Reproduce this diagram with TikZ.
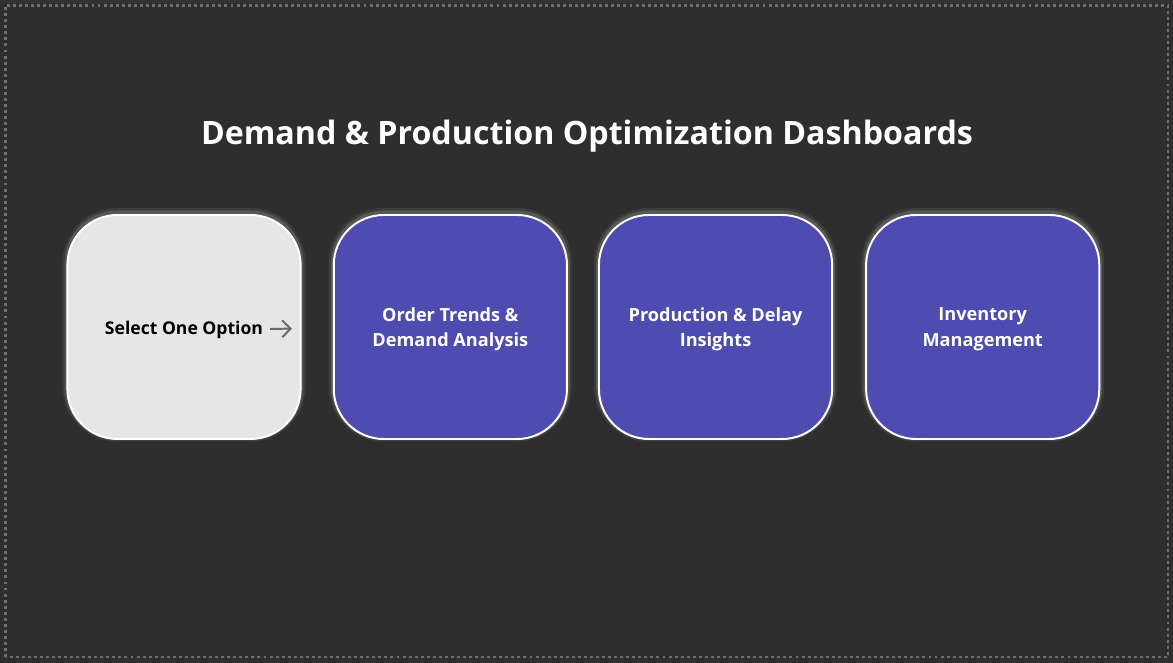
\documentclass[tikz,border=0pt]{standalone}
\usepackage{fontspec}
\setmainfont{Open Sans}
\usetikzlibrary{calc, positioning, arrows.meta}
\definecolor{dashbg}{HTML}{2E2E2E}
\definecolor{dashedge}{HTML}{6E6E6E}
\definecolor{optpurple}{HTML}{4F4CB1}
\definecolor{optgray}{HTML}{E6E6E6}
\definecolor{arrowgray}{HTML}{6A6A6A}

\tikzset{
    tile/.style={draw=white, line width=1.4pt, rounded corners=1.25cm,
        minimum width=5.83cm, minimum height=5.6cm, align=center,
        font=\bfseries\fontsize{12.9}{18.3}\selectfont,
        preaction={draw=white, draw opacity=0.07, line width=7pt, transform canvas={yshift=1.6pt}},
        preaction={draw=white, draw opacity=0.14, line width=4pt, transform canvas={yshift=1.2pt}}},
    optiontile/.style={tile, fill=optpurple, text=white, text depth=-3pt}
}

\begin{document}
\begin{tikzpicture}
    % Canvas
    \useasboundingbox (0,0) rectangle (29.325,16.575);
    \fill[dashbg] (0,0) rectangle (29.325,16.575);
    \fill[black!80] (0,16.5) rectangle (29.325,16.575);
    \draw[dashedge, line width=2pt, dash pattern=on 2.1pt off 2.2pt] (0.14,0.15) rectangle (29.2,16.44);

    % Title
    \node[text=white, font=\bfseries\fontsize{22.9}{27}\selectfont] (title) at (14.675,13.17)
        {Demand \& Production Optimization Dashboards};

    % Tiles
    \node[tile, fill=optgray, text=black] (select) at (4.6,8.4) {};
    \node[optiontile, right=0.78cm of select] (orders) {Order Trends \&\\Demand Analysis};
    \node[optiontile, right=0.75cm of orders] (production) {Production \& Delay\\Insights};
    \node[optiontile, right=0.8cm of production] (inventory) {Inventory\\Management};

    % Prompt and arrow
    \node[font=\bfseries\fontsize{12.5}{15}\selectfont, inner sep=0pt] (prompt) at (4.6,8.33) {Select One Option};
    \coordinate (pointer) at (7.3,8.36);
    \draw[arrowgray, line width=1.4pt, -{Straight Barb[length=6pt, width=12pt]}]
        ($(prompt.east)+(0.17,0.02)$) -- (pointer);
\end{tikzpicture}
\end{document}
